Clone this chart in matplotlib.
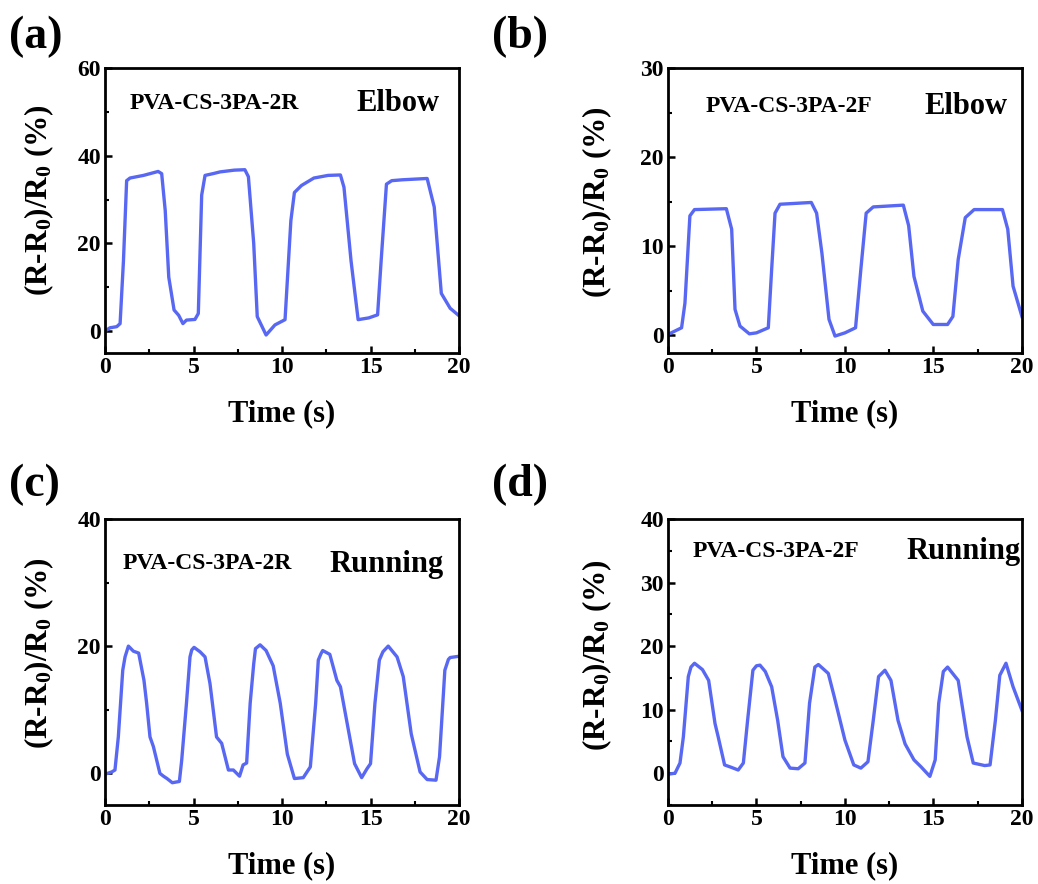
import matplotlib
matplotlib.use("Agg")
import matplotlib.pyplot as plt
from matplotlib.ticker import MultipleLocator

plt.rcParams["font.family"] = ["Liberation Serif", "DejaVu Serif"]
plt.rcParams["font.weight"] = "bold"
plt.rcParams["mathtext.fontset"] = "custom"
plt.rcParams["mathtext.rm"] = "Liberation Serif:bold"
plt.rcParams["mathtext.it"] = "Liberation Serif:bold"
plt.rcParams["mathtext.bf"] = "Liberation Serif:bold"

LINE_COLOR = "#5868f2"

# (a) PVA-CS-3PA-2R, elbow
a_t = [0, 0.28, 0.66, 0.85, 1.04, 1.22, 1.41, 2.17, 3.0, 3.2, 3.4, 3.6, 3.9, 4.16, 4.4,
       4.6, 5.08, 5.27, 5.46, 5.65, 6.1, 6.5, 7.3, 7.9, 8.1, 8.4, 8.6, 9.1, 9.6, 9.98,
       10.17, 10.5, 10.7, 11.1, 11.8, 12.6, 13.3, 13.5, 13.9, 14.3, 14.9, 15.4, 15.6,
       15.9, 16.2, 16.8, 18.2, 18.6, 19.0, 19.5, 20.0]
a_r = [0, 0.75, 1.0, 1.7, 16, 34.3, 34.9, 35.5, 36.4, 35.9, 27.5, 12.3, 4.8, 3.6, 1.7,
       2.5, 2.65, 4.0, 31, 35.5, 35.9, 36.3, 36.7, 36.8, 35.2, 20, 3.3, -0.9, 1.4, 2.2,
       2.6, 25.2, 31.6, 33.2, 34.9, 35.5, 35.6, 32.8, 16, 2.6, 3.0, 3.7, 16,
       33.5, 34.3, 34.5, 34.8, 28.3, 8.6, 5.2, 3.5]

# (b) PVA-CS-3PA-2F, elbow
b_t = [0, 0.77, 0.96, 1.24, 1.5, 3.3, 3.6, 3.79, 4.07, 4.6, 5.0, 5.67, 5.86, 6.05, 6.33,
       8.1, 8.4, 8.7, 9.1, 9.44, 10.0, 10.6, 10.9, 11.2, 11.6, 13.3, 13.6, 13.9, 14.4,
       14.99, 15.8, 16.1, 16.4, 16.8, 17.3, 18.9, 19.2, 19.5, 20.0]
b_r = [0.08, 0.83, 3.6, 13.4, 14.1, 14.2, 11.9, 2.9, 1.02, 0.15, 0.26, 0.83, 7.4, 13.7, 14.7,
       14.9, 13.7, 9.2, 1.77, -0.1, 0.26, 0.83, 7.4, 13.7, 14.4, 14.6, 12.3, 6.6, 2.7,
       1.2, 1.2, 2.1, 8.5, 13.2, 14.1, 14.1, 11.9, 5.5, 2.1]

# (c) PVA-CS-3PA-2R, running
c_t = [0, 0.38, 0.56, 0.75, 1.0, 1.13, 1.32, 1.6, 1.9, 2.2, 2.35, 2.54, 2.73, 3.1, 3.3, 3.5,
       3.8, 4.2, 4.33, 4.6, 4.8, 4.9, 5.03, 5.37, 5.65, 5.93, 6.3, 6.59, 6.97, 7.25, 7.6,
       7.8, 8.0, 8.2, 8.4, 8.5, 8.76, 9.1, 9.5, 9.9, 10.3, 10.7, 11.2, 11.6, 11.9, 12.05,
       12.2, 12.3, 12.7, 13.1, 13.3, 13.65, 14.1, 14.5, 14.8, 15.0, 15.25, 15.5, 15.7,
       16.0, 16.5, 16.85, 17.3, 17.8, 18.2, 18.7, 18.9, 19.2, 19.4, 19.5, 20.0]
c_r = [-0.16, 0.2, 0.5, 5.7, 16.2, 18.3, 20.0, 19.2, 18.9, 14.6, 11, 5.7, 4.2, -0.03, -0.47, -0.84,
       -1.5, -1.3, 2.0, 11, 18.3, 19.4, 19.8, 19.1, 18.3, 14.1, 5.7, 4.7, 0.5, 0.5, -0.47,
       1.3, 1.6, 11, 17.2, 19.6, 20.2, 19.3, 16.9, 11, 3.0, -0.84, -0.7, 1.0, 11, 17.8,
       18.8, 19.3, 18.7, 14.6, 13.6, 8.3, 1.5, -0.7, 0.7, 1.5, 11, 17.8, 19.1,
       20.0, 18.3, 15.2, 6.2, 0.2, -1.0, -1.1, 2.6, 16.2, 17.9, 18.2, 18.4]

# (d) PVA-CS-3PA-2F, running
d_t = [0.02, 0.4, 0.68, 0.87, 1.15, 1.3, 1.5, 1.95, 2.3, 2.66, 2.84, 3.2, 3.6, 3.97, 4.26,
       4.5, 4.8, 5.0, 5.2, 5.5, 5.86, 6.2, 6.5, 6.9, 7.36, 7.74, 8.0, 8.3, 8.5, 9.06, 9.4,
       10.0, 10.5, 10.9, 11.3, 11.6, 11.9, 12.26, 12.6, 13.0, 13.4, 13.9, 14.3, 14.8,
       15.1, 15.3, 15.56, 15.8, 16.4, 16.9, 17.25, 17.9, 18.2, 18.5, 18.75, 19.1, 19.5, 20.0]
d_r = [-0.16, 0, 1.6, 5.7, 15.2, 16.7, 17.3, 16.3, 14.6, 7.8, 5.7, 1.3, 0.9, 0.5, 1.6,
       8.3, 16.2, 16.9, 17.0, 16.0, 13.6, 8.3, 2.6, 0.8, 0.7, 1.6, 11, 16.7, 17.1, 15.7, 12,
       5.2, 1.3, 0.8, 1.8, 8.3, 15.2, 16.2, 14.6, 8.3, 4.6, 2.1, 1.0, -0.5,
       2.1, 11, 16.0, 16.7, 14.6, 5.7, 1.6, 1.2, 1.3, 8.3, 15.4, 17.3, 13.6, 9.9]

panels = [
    # tag, t, r, ylim, major, minor, sample, motion, axes rect, tag pos,
    # sample pos, motion pos, ylabel center
    ("(a)", a_t, a_r, (-5, 60), 20, 10, "PVA-CS-3PA-2R", "Elbow",
     [0.1012, 0.6007, 0.341, 0.3224], (0.009, 0.958), (0.07, 0.875), (0.945, 0.875), (-0.186, 0.537)),
    ("(b)", b_t, b_r, (-2, 30), 10, 5, "PVA-CS-3PA-2F", "Elbow",
     [0.6435, 0.6007, 0.341, 0.3224], (0.474, 0.958), (0.105, 0.865), (0.96, 0.865), (-0.2, 0.53)),
    ("(c)", c_t, c_r, (-5, 40), 20, 10, "PVA-CS-3PA-2R", "Running",
     [0.1012, 0.0894, 0.341, 0.3235], (0.009, 0.451), (0.05, 0.845), (0.955, 0.84), (-0.186, 0.53)),
    ("(d)", d_t, d_r, (-5, 40), 10, 5, "PVA-CS-3PA-2F", "Running",
     [0.6435, 0.0894, 0.341, 0.3235], (0.474, 0.451), (0.07, 0.885), (0.995, 0.885), (-0.2, 0.524)),
]

fig = plt.figure(figsize=(10.38, 8.84), dpi=100)

for tag, t, r, ylim, major, minor, sample, motion, rect, tpos, spos, mpos, ylc in panels:
    ax = fig.add_axes(rect)
    ax.plot(t, r, color=LINE_COLOR, linewidth=2.4, solid_joinstyle="round")
    ax.set_xlim(0, 20)
    ax.set_ylim(*ylim)
    ax.xaxis.set_major_locator(MultipleLocator(5))
    ax.xaxis.set_minor_locator(MultipleLocator(2.5))
    ax.yaxis.set_major_locator(MultipleLocator(major))
    ax.yaxis.set_minor_locator(MultipleLocator(minor))
    ax.tick_params(which="major", direction="in", length=5, width=1.8, labelsize=17, pad=3)
    ax.tick_params(which="minor", direction="in", length=3, width=1.5)
    for s in ax.spines.values():
        s.set_linewidth(2)
    ax.set_xlabel("Time (s)", fontsize=22, fontweight="bold", va="center")
    ax.xaxis.set_label_coords(0.5, -0.214)
    ax.set_ylabel(r"(R-R$_0$)/R$_0$ (%)", fontsize=22.5, fontweight="bold", va="center")
    ax.yaxis.set_label_coords(*ylc)
    ax.text(spos[0], spos[1], sample, transform=ax.transAxes, fontsize=17,
            fontweight="bold", ha="left", va="center")
    ax.text(mpos[0], mpos[1], motion, transform=ax.transAxes, fontsize=22,
            fontweight="bold", ha="right", va="center")
    fig.text(tpos[0], tpos[1], tag, fontsize=33, fontweight="bold", ha="left", va="center")

fig.savefig("out.png", dpi=100, facecolor="white")
